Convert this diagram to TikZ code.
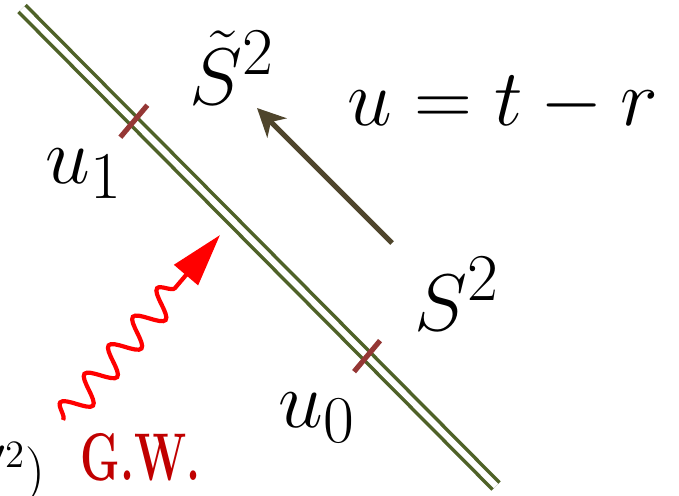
\documentclass[tikz,border=0pt]{standalone}
\usepackage{amsmath,amssymb}
\usepackage{tikz}
\usetikzlibrary{arrows.meta,calc,decorations.pathmorphing,positioning}

\definecolor{lineolive}{RGB}{79,98,40}
\definecolor{cutred}{RGB}{149,55,53}
\definecolor{timebrown}{RGB}{79,69,44}
\definecolor{gwred}{RGB}{192,0,0}

\begin{document}
\begin{tikzpicture}[x=0.31pt,y=-0.31pt,font=\Huge,inner sep=0pt,
  nullline/.style={draw=lineolive,line width=1.1pt,double=white,double distance=1.9pt},
  cutmark/.style={draw=cutred,line width=1.6pt},
  timearrow/.style={draw=timebrown,line width=1.6pt,-{Stealth[length=8.7pt,width=8.4pt,inset=2.6pt]}},
  gwave/.style={draw=red,line width=1.3pt,-{Triangle[length=16.3pt,width=9.5pt]},
    decorate,decoration={snake,segment length=11.6pt,amplitude=4.2pt,post length=21pt}}]
\useasboundingbox (0,0) rectangle (679,495);

% null ray u = const
\coordinate (top) at (22,8.5);
\coordinate (bot) at (496,486);
\draw[nullline] (top) -- (bot);

% cuts u_1 and u_0
\coordinate (p1) at ($(top)!0.236!(bot)$);
\coordinate (p0) at ($(top)!0.728!(bot)$);
\draw[cutmark] ($(p1)+(13.5,-16)$) -- ($(p1)+(-13.5,16)$);
\draw[cutmark] ($(p0)+(13,-15.5)$) -- ($(p0)+(-13,15.5)$);

% time direction
\coordinate (tail) at (392,243);
\coordinate (head) at (257,108);
\draw[timearrow] (tail) -- (head);

% incoming wave
\coordinate (w0) at (63,420);
\coordinate (w1) at (220,235);
\draw[gwave] (w0) -- (w1);

\node[anchor=base] (eq) at (503,125) {$u=t-r$};
\node[anchor=base west] (Stil) at (189,104) {$\tilde S^2$};
\node[anchor=base west] (u1) at (45,183) {$u_1$};
\node[anchor=base west] (S2) at (414,330) {$S^2$};
\node[anchor=base west] (u0) at (278,427) {$u_0$};
\node[anchor=base west,text=gwred] (gw) at (80,480) {\resizebox{37.2pt}{14.6pt}{\bfseries G.W.}};
\node[anchor=base east,font=\LARGE] (frag) at (46,488) {${}'^{2})$};
\end{tikzpicture}
\end{document}
